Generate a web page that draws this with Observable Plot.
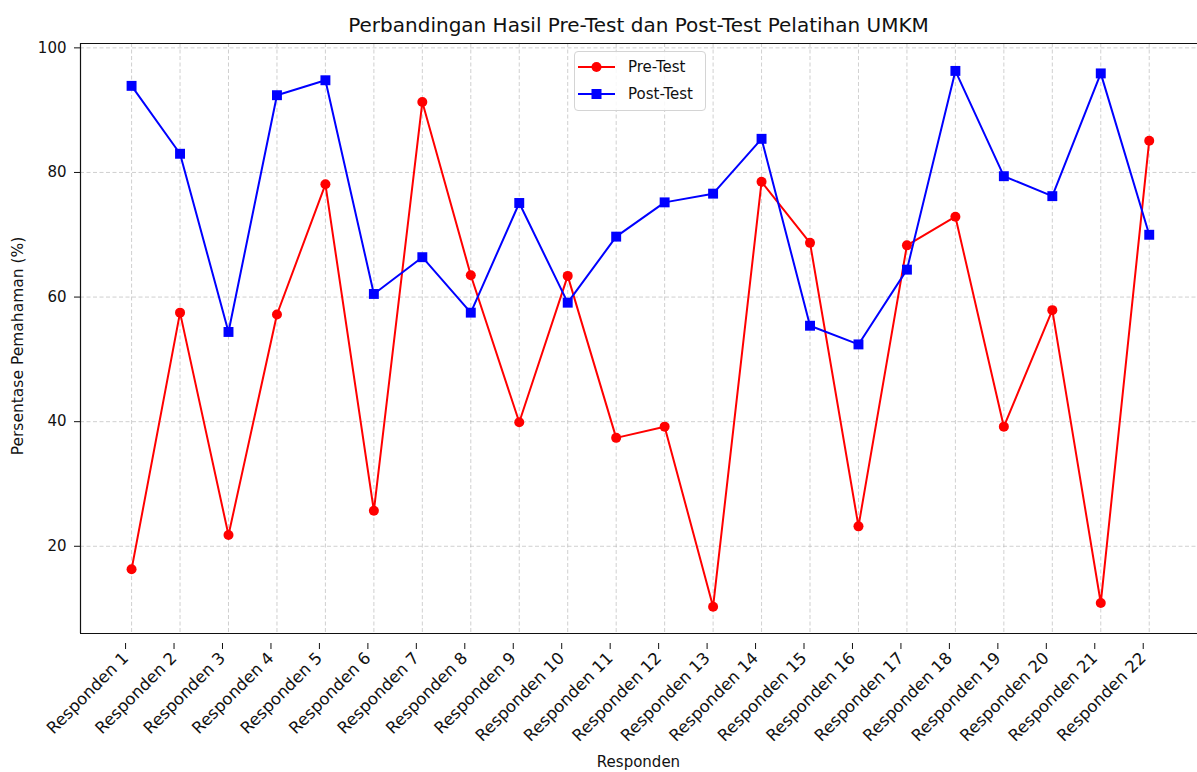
<!DOCTYPE html>
<html>
<head>
<meta charset="utf-8">
<script src="https://cdn.jsdelivr.net/npm/d3@7"></script>
<script src="https://cdn.jsdelivr.net/npm/@observablehq/plot@0.6"></script>
<style>
  html, body { margin: 0; padding: 0; background: #fff; }
  #wrap { position: relative; width: 1197px; height: 772px; font-family: "DejaVu Sans", sans-serif; color: #111; }
  #title { position: absolute; left: 80px; width: 1117px; top: 13px; text-align: center; font-size: 20px; line-height: 24px; }
  #xlabel { position: absolute; left: 80px; width: 1117px; top: 753px; text-align: center; font-size: 15px; line-height: 18px; }
  #ylabel { position: absolute; left: 18px; top: 346px; width: 0; height: 0; }
  #ylabel span { position: absolute; white-space: nowrap; font-size: 15.5px; line-height: 18px; transform: translate(-50%, -50%) rotate(-90deg); left: 0; top: 0; }
  #legend { position: absolute; left: 574px; top: 51px; width: 132px; height: 60px; border: 1px solid #d4d4d4; border-radius: 4px; background: rgba(255,255,255,0.85); box-sizing: border-box; }
  .entry { position: absolute; left: 3px; height: 20px; display: flex; align-items: center; font-size: 15px; }
  .entry svg { margin-right: 13px; }
</style>
</head>
<body>
<div id="wrap">
  <div id="chart"></div>
  <div id="title">Perbandingan Hasil Pre-Test dan Post-Test Pelatihan UMKM</div>
  <div id="xlabel">Responden</div>
  <div id="ylabel"><span>Persentase Pemahaman (%)</span></div>
  <div id="legend">
    <div class="entry" style="top:5px"><svg width="37" height="14"><line x1="0" x2="37" y1="7" y2="7" stroke="red" stroke-width="2"/><circle cx="18.5" cy="7" r="5" fill="red"/></svg>Pre-Test</div>
    <div class="entry" style="top:32px"><svg width="37" height="14"><line x1="0" x2="37" y1="7" y2="7" stroke="blue" stroke-width="2"/><rect x="13.5" y="2" width="10" height="10" fill="blue"/></svg>Post-Test</div>
  </div>
</div>
<script>
const categories = ["Responden 1","Responden 2","Responden 3","Responden 4","Responden 5","Responden 6","Responden 7","Responden 8","Responden 9","Responden 10","Responden 11","Responden 12","Responden 13","Responden 14","Responden 15","Responden 16","Responden 17","Responden 18","Responden 19","Responden 20","Responden 21","Responden 22"];
const preTest  = [16.3, 57.5, 21.8, 57.2, 78.1, 25.7, 91.3, 63.5, 39.9, 63.4, 37.4, 39.2, 10.3, 78.5, 68.7, 23.2, 68.3, 72.9, 39.2, 57.9, 10.9, 85.1];
const postTest = [93.9, 83.0, 54.4, 92.4, 94.8, 60.5, 66.4, 57.5, 75.1, 59.1, 69.7, 75.2, 76.6, 85.4, 55.4, 52.4, 64.4, 96.3, 79.4, 76.2, 95.9, 70.0];
const yTicks = [20, 40, 60, 80, 100];

const data = categories.map((c, i) => ({i, c, pre: preTest[i], post: postTest[i]}));
const idx = categories.map((_, i) => i);
const xDomain = [-1.054, 21.996];
const yDomain = [6.0, 100.7];
const gridStyle = {stroke: "#b0b0b0", strokeOpacity: 0.75, strokeDasharray: "4,2.5", strokeWidth: 0.8};

const chart = Plot.plot({
  width: 1197,
  height: 772,
  marginTop: 43,
  marginBottom: 139,
  marginLeft: 80,
  marginRight: 0,
  style: {fontFamily: "DejaVu Sans, sans-serif", color: "#111", background: "white"},
  x: {type: "linear", domain: xDomain},
  y: {domain: yDomain},
  marks: [
    Plot.gridX(idx, gridStyle),
    Plot.gridY(yTicks, gridStyle),
    Plot.ruleX([xDomain[0]], {stroke: "#111", strokeWidth: 1.2}),
    Plot.ruleY([yDomain[0], yDomain[1]], {stroke: "#111", strokeWidth: 1.2}),
    Plot.axisX(idx, {
      tickFormat: i => categories[i],
      tickSize: 6,
      tickRotate: -45,
      fontSize: 16.5,
      label: null,
      textAnchor: "end",
      dx: -6,
      dy: 10
    }),
    Plot.axisY(yTicks, {
      tickSize: 6,
      tickPadding: 8,
      fontSize: 15,
      label: null
    }),
    Plot.line(data, {x: "i", y: "pre", stroke: "red", strokeWidth: 2}),
    Plot.dot(data, {x: "i", y: "pre", fill: "red", r: 5, symbol: "circle"}),
    Plot.line(data, {x: "i", y: "post", stroke: "blue", strokeWidth: 2}),
    Plot.dot(data, {x: "i", y: "post", fill: "blue", r: 5.6, symbol: "square"})
  ]
});
document.getElementById("chart").appendChild(chart);
</script>
</body>
</html>
